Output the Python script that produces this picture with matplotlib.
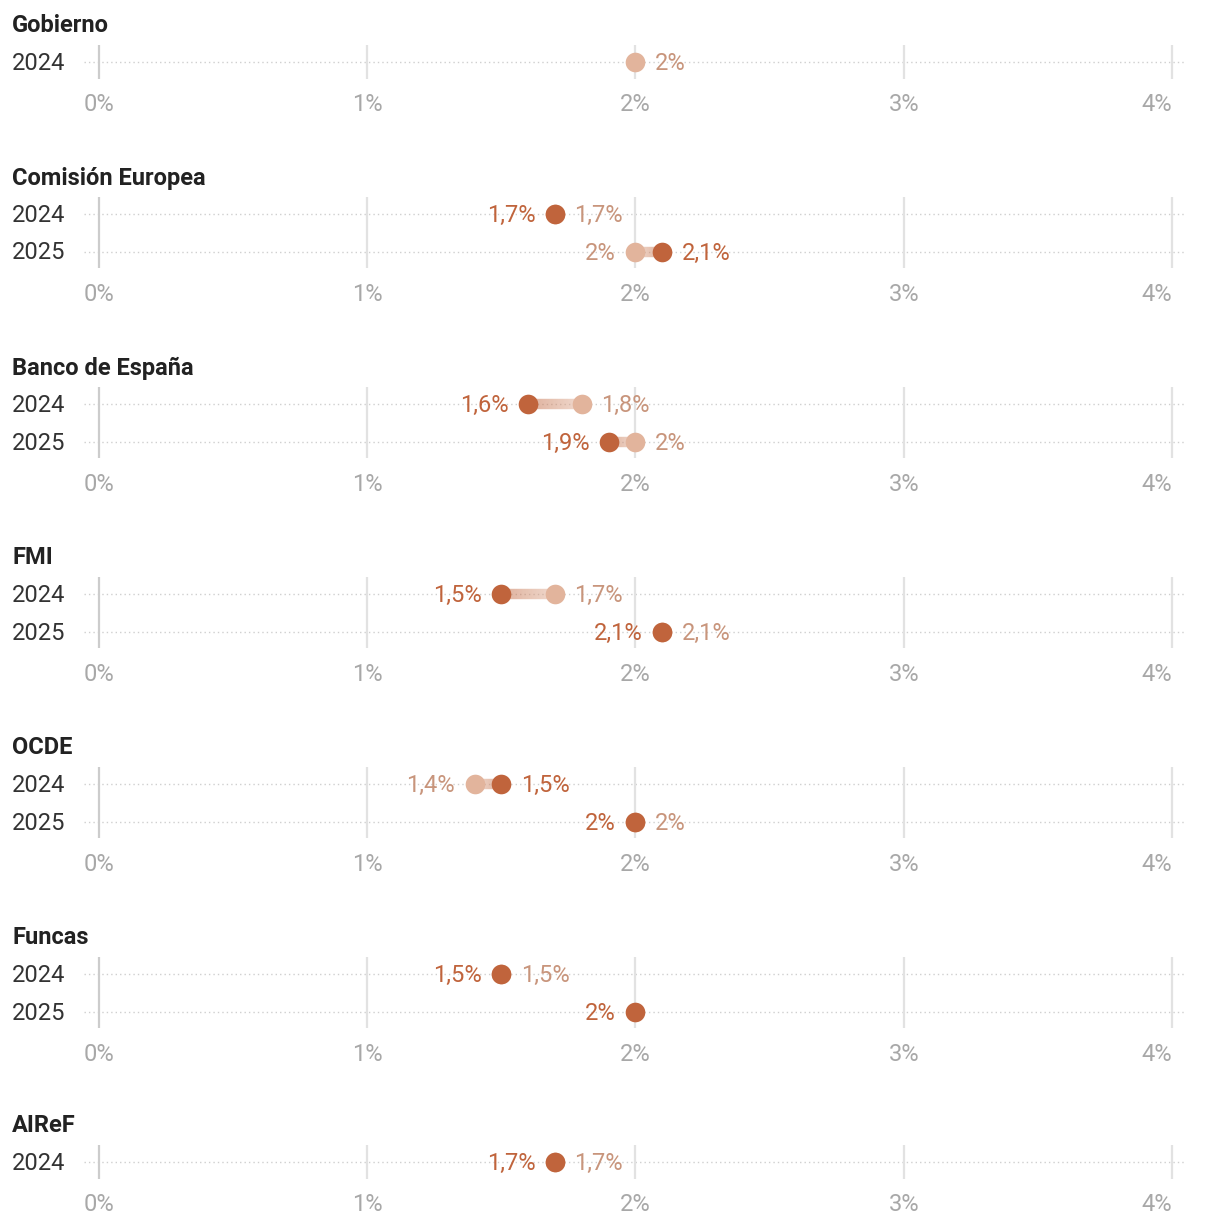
import matplotlib
matplotlib.use("Agg")
import matplotlib.pyplot as plt
import numpy as np
from matplotlib.collections import LineCollection
from matplotlib.colors import to_rgba

plt.rcParams['font.family'] = ['Roboto', 'DejaVu Sans']

# ---- data ----
institutions = ["Gobierno", "Comisión Europea", "Banco de España", "FMI", "OCDE", "Funcas", "AIReF"]
years = [["2024"], ["2024", "2025"], ["2024", "2025"], ["2024", "2025"], ["2024", "2025"], ["2024", "2025"], ["2024"]]
# current forecast (dark) and previous forecast (light); None = not available
current = [[None], [1.7, 2.1], [1.6, 1.9], [1.5, 2.1], [1.5, 2.0], [1.5, 2.0], [1.7]]
previous = [[2.0], [1.7, 2.0], [1.8, 2.0], [1.7, 2.1], [1.4, 2.0], [1.5, None], [1.7]]
xticks = [0, 1, 2, 3, 4]
xticklabels = ["0%", "1%", "2%", "3%", "4%"]

# ---- style ----
DARK = "#c0643c"
LIGHT = "#e2b49c"
LIGHT_TXT = "#c8957c"
GRID = "#e2e2e2"
ZERO = "#cccccc"
TICK_TXT = "#a8a8a8"

W, H = 1220, 1224
DPI = 100
fig = plt.figure(figsize=(W / DPI, H / DPI), dpi=DPI)

title_y = [26, 178, 368, 558, 748, 938, 1126]
first_row_y = [62, 214, 404, 594, 784, 974, 1162]
row_step = 37.5
x0_px, x4_px = 99, 1172
px_per_unit = (x4_px - x0_px) / 4.0
ax_left_px, ax_right_px = 84, 1186
xmin = (ax_left_px - x0_px) / px_per_unit
xmax = (ax_right_px - x0_px) / px_per_unit
FS = 17


def fmt(v):
    if abs(v - round(v)) < 1e-9:
        return f"{int(round(v))}%"
    return f"{v:.1f}".replace(".", ",") + "%"


dark_rgba = np.array(to_rgba(DARK))
light_rgba = np.array(to_rgba(LIGHT))

for k, inst in enumerate(institutions):
    n = len(years[k])
    top = first_row_y[k] - row_step / 2
    height = n * row_step
    ax = fig.add_axes([ax_left_px / W, 1 - (top + height) / H, (ax_right_px - ax_left_px) / W, height / H])
    ax.set_xlim(xmin, xmax)
    ax.set_ylim(n - 0.5, -0.5)
    for s in ax.spines.values():
        s.set_visible(False)
    ax.set_yticks([])
    ax.set_xticks(xticks)
    ax.set_xticklabels(xticklabels)
    ax.tick_params(axis='x', length=0, pad=9, labelsize=FS, labelcolor=TICK_TXT)
    ax.get_xticklabels()[-1].set_horizontalalignment('right')
    ax.patch.set_alpha(0)

    # vertical grid lines
    for t in xticks:
        ax.plot([t, t], [-0.45, n - 0.55], color=ZERO if t == 0 else GRID, lw=1.6, zorder=1,
                solid_capstyle='butt')
    # dotted row lines
    for i in range(n):
        ax.plot([xmin, xmax], [i, i], color="#cfcfcf", lw=1.0, ls=(0, (1, 2.2)), zorder=0.5)

    # title
    fig.text(12 / W, 1 - title_y[k] / H, inst, fontsize=FS, fontweight='bold', color="#222222",
             ha='left', va='center')
    for i, yr in enumerate(years[k]):
        fig.text(12 / W, 1 - (first_row_y[k] + i * row_step + 1.5) / H, yr, fontsize=FS, color="#333333",
                 ha='left', va='center')

        c = current[k][i]
        p = previous[k][i]
        # gradient connector
        if c is not None and p is not None and abs(c - p) > 1e-9:
            xs = np.linspace(c, p, 40)
            segs = [[(xs[j], i), (xs[j + 1], i)] for j in range(len(xs) - 1)]
            cols = []
            for j in range(len(xs) - 1):
                f = j / (len(xs) - 2)
                rgb = dark_rgba[:3] * (1 - f) + light_rgba[:3] * f
                cols.append((*rgb, 0.5))
            lc = LineCollection(segs, colors=cols, linewidths=7.5, capstyle='butt', zorder=2)
            ax.add_collection(lc)
        if p is not None:
            ax.scatter([p], [i], s=200, color=LIGHT, zorder=3, linewidths=0)
        if c is not None:
            ax.scatter([c], [i], s=200, color=DARK, zorder=4, linewidths=0)

        # labels
        if c is not None:
            left = (p is None) or (c <= p)
            ax.annotate(fmt(c), (c, i), xytext=(-14 if left else 14, -1.2), textcoords='offset points',
                        ha='right' if left else 'left', va='center', fontsize=FS, color=DARK, zorder=5)
        if p is not None:
            right = (c is None) or (c <= p)
            ax.annotate(fmt(p), (p, i), xytext=(14 if right else -14, -1.2), textcoords='offset points',
                        ha='left' if right else 'right', va='center', fontsize=FS, color=LIGHT_TXT, zorder=5)

fig.savefig("out.png", dpi=DPI)
